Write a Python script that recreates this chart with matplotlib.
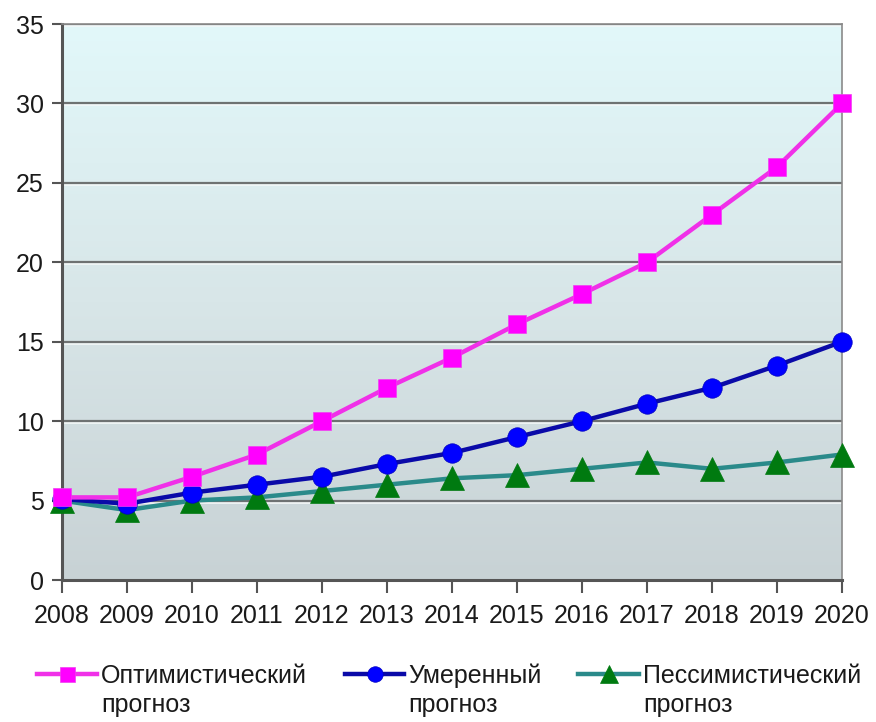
import numpy as np
import matplotlib
matplotlib.use("Agg")
import matplotlib.pyplot as plt
from matplotlib.lines import Line2D
from matplotlib.colors import LinearSegmentedColormap

plt.rcParams['font.family'] = ['Liberation Sans', 'DejaVu Sans']

years = [2008, 2009, 2010, 2011, 2012, 2013, 2014, 2015, 2016, 2017, 2018, 2019, 2020]
optimistic = [5.2, 5.2, 6.5, 7.9, 10.0, 12.1, 14.0, 16.1, 18.0, 20.0, 23.0, 26.0, 30.0]
moderate = [5.1, 4.8, 5.5, 6.0, 6.5, 7.3, 8.0, 9.0, 10.0, 11.1, 12.1, 13.5, 15.0]
pessimistic = [5.0, 4.4, 5.0, 5.2, 5.6, 6.0, 6.4, 6.6, 7.0, 7.4, 7.0, 7.4, 7.9]
labels = [("Оптимистический", "прогноз"), ("Умеренный", "прогноз"), ("Пессимистический", "прогноз")]
yticks = [0, 5, 10, 15, 20, 25, 30, 35]

fig = plt.figure(figsize=(8.76, 7.22), dpi=100)
ax = fig.add_axes([62/876, 1-580/722, (842-62)/876, (580-24)/722])

# gradient background
cmap = LinearSegmentedColormap.from_list("bg", ["#C8D2D5", "#D8E6E8", "#E2F8FA"])
grad = np.linspace(0, 1, 256).reshape(-1, 1)
ax.imshow(grad, cmap=cmap, aspect='auto', extent=[0, 1, 0, 1],
          transform=ax.transAxes, origin='lower', zorder=0)

ax.set_xlim(years[0], years[-1])
ax.set_ylim(0, 35)
ax.set_yticks(yticks)
ax.set_xticks(years)
ax.set_xticklabels([str(y) for y in years])

for yv in yticks[1:]:
    ax.axhline(yv - 0.13, color='#F4F8F8', lw=1.2, zorder=1)
    ax.axhline(yv, color='#6E7272', lw=1.6, zorder=1)

s_opt = dict(color='#F030E8', lw=3.2, marker='s', markersize=13.5,
             markerfacecolor='#FF00FF', markeredgecolor='#F040F0', mew=0.5)
s_mod = dict(color='#0A0AA8', lw=3.2, marker='o', markersize=14,
             markerfacecolor='#0000FF', markeredgecolor='#0000C0', mew=0.5)
s_pes = dict(color='#2A8A8A', lw=3.2, marker='^', markersize=17,
             markerfacecolor='#007A10', markeredgecolor='#007A10', mew=0.5)

ax.plot(years, pessimistic, zorder=3, clip_on=False, **s_pes)
ax.plot(years, moderate, zorder=4, clip_on=False, **s_mod)
ax.plot(years, optimistic, zorder=5, clip_on=False, **s_opt)

for side in ['top', 'right']:
    ax.spines[side].set_color('#8A8A8A')
    ax.spines[side].set_linewidth(1.2)
ax.spines['left'].set_color('#555555')
ax.spines['left'].set_linewidth(2.2)
ax.spines['bottom'].set_color('#555555')
ax.spines['bottom'].set_linewidth(2.2)

ax.tick_params(axis='both', colors='#555555', width=1.5, length=7,
               labelcolor='#1A1A1A', labelsize=18)
ax.tick_params(axis='x', length=9, pad=8)
ax.tick_params(axis='y', pad=6)

# legend (manual)
entries = [(37, 97, s_opt, labels[0]), (345, 404, s_mod, labels[1]), (578, 639, s_pes, labels[2])]
ly = 1 - 674/722
for x0, x1, st, lab in entries:
    st2 = dict(st)
    st2['marker'] = 'None'
    fig.add_artist(Line2D([x0/876, x1/876], [ly, ly], transform=fig.transFigure, **st2))
    st3 = dict(st)
    st3['linestyle'] = 'None'
    st3['markersize'] = st['markersize'] * 0.8
    fig.add_artist(Line2D([(x0+x1)/2/876], [ly], transform=fig.transFigure, **st3))
    fig.text((x1+4)/876, 1 - 683/722, lab[0], fontsize=18, color='#1A1A1A',
             va='baseline', ha='left')
    fig.text((x1+4)/876, 1 - 712/722, lab[1], fontsize=18, color='#1A1A1A',
             va='baseline', ha='left')

fig.savefig("out.png", dpi=100)
